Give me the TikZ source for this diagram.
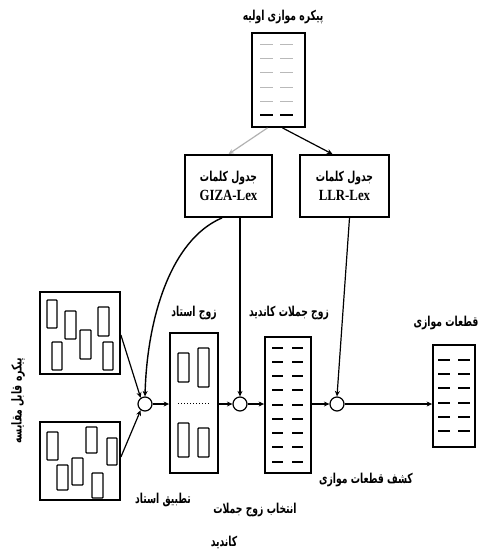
\documentclass[tikz,border=0pt]{standalone}
\usepackage{fontspec}
\usepackage{graphicx}
\usetikzlibrary{arrows.meta}
\TeXXeTstate=1
\newfontfamily\fa[Script=Arabic]{DejaVu Sans}
\newfontfamily\lat{Liberation Serif}
\newcommand{\FA}[1]{\scalebox{0.88}[1.3]{\fa\bfseries\beginR #1\endR}}
\newcommand{\LAT}[1]{\scalebox{0.95}[1.15]{\fontsize{13.5}{15}\selectfont\lat\bfseries #1}}
\begin{document}
\begin{tikzpicture}[x=1pt,y=1pt,
  box/.style={draw,line width=1.8pt,inner sep=0pt,fill=white},
  junc/.style={draw,circle,line width=1.2pt,minimum size=14pt,inner sep=0pt,fill=white},
  arr/.style={line width=1.2pt,-{Stealth[length=5.5pt,width=5pt]}},
  lbl/.style={inner sep=1pt,font=\fontsize{10.5}{12}\selectfont},
  inner/.style={line width=1.2pt,rounded corners=0.8pt},
  dsh/.style={line width=1.8pt},
  gdsh/.style={line width=1pt,gray!55}]
\useasboundingbox (0,0) rectangle (486,-552);

% ---- boxes
\node[box,minimum width=53pt,minimum height=94pt] (src) at (278.5,-80) {};
\node[box,minimum width=87pt,minimum height=62pt,align=center] (giza) at (228.5,-186)
  {{\fontsize{10.5}{12}\selectfont\FA{جدول کلمات}}\\[4pt]\LAT{GIZA-Lex}};
\node[box,minimum width=89pt,minimum height=62pt,align=center] (llr) at (344.5,-186)
  {{\fontsize{10.5}{12}\selectfont\FA{جدول کلمات}}\\[4pt]\LAT{LLR-Lex}};
\node[box,minimum width=80pt,minimum height=82pt] (cmpA) at (80,-333) {};
\node[box,minimum width=80pt,minimum height=78pt] (cmpB) at (80,-461) {};
\node[box,minimum width=48pt,minimum height=140pt] (gold) at (194,-403) {};
\node[box,minimum width=46pt,minimum height=136pt] (cand) at (288,-405) {};
\node[box,minimum width=42pt,minimum height=102pt] (fin) at (454,-396) {};

\node[junc] (c1) at (145,-404) {};
\node[junc] (c2) at (240,-404) {};
\node[junc] (c3) at (337,-404) {};

% ---- labels
\node[lbl] (tsrc) at (283,-17) {\FA{پیکره موازی اولیه}};
\node[lbl] (tgold) at (194,-313) {\FA{زوج استاد}};
\node[lbl] (tcand) at (289,-313) {\FA{زوج جملات کاندید}};
\node[lbl] (tfin) at (446,-323) {\FA{قطعات موازی}};
\node[lbl] (tdet) at (366,-480) {\FA{کشف قطعات موازی}};
\node[lbl] (tsel1) at (255,-510) {\FA{انتخاب زوج جملات}};
\node[lbl] (tsel2) at (224,-542) {\FA{کاندید}};
\node[lbl] (tmatch) at (163,-500) {\FA{تطبیق استاد}};
\node[lbl,rotate=90] (tcmp) at (18,-401) {\FA{پیکره قابل مقایسه}};

% ---- inside source box
\foreach \y in {44,58,72,87,101} {
  \draw[gdsh] (260,-\y) -- (273,-\y);
  \draw[gdsh] (280,-\y) -- (293,-\y);
}
\draw[dsh] (260,-115) -- (273,-115);
\draw[dsh] (280,-115) -- (293,-115);

% ---- inside comparable boxes
\foreach \a/\b/\c/\d in {47/300/57/328, 65/311/76/339, 80/330/91/359, 98/307/109/336, 52/342/62/370, 103/342/113/370,
                         47/432/58/460, 57/465/68/490, 72/458/83/485, 86/427/97/453, 92/473/103/498, 107/438/117/465}
  \draw[inner] (\a,-\b) rectangle (\c,-\d);

% ---- inside gold box
\draw[inner] (178,-353) rectangle (189,-382);
\draw[inner] (198,-348) rectangle (209,-387);
\draw[inner] (178,-423) rectangle (189,-457);
\draw[inner] (198,-428) rectangle (209,-457);
\draw[line width=1pt,dotted] (178,-403) -- (209,-403);

% ---- inside candidate box
\foreach \y in {348,362,376,390,405,419,433,447,462} {
  \draw[dsh] (272,-\y) -- (283,-\y);
  \draw[dsh] (292,-\y) -- (303,-\y);
}
% ---- inside final box
\foreach \y in {360,374,388,403,417,431} {
  \draw[dsh] (438,-\y) -- (450,-\y);
  \draw[dsh] (458,-\y) -- (470,-\y);
}

% ---- connectors
\draw[arr,gray!60] ([xshift=-11pt]src.south) -- (giza.north);
\draw[arr] ([xshift=4pt]src.south) -- ([xshift=-12pt]llr.north);
\draw[arr,line width=1.4pt] ([xshift=-6.5pt]giza.south) .. controls (170,-240) and (147,-320) .. (c1.north);
\draw[arr] (c2.north |- giza.south) -- (c2.north);
\draw[arr] ([xshift=5pt]llr.south) -- (c3.north);
\draw[arr] ([yshift=-2pt]cmpA.east) -- (c1.125);
\draw[arr] ([yshift=4pt]cmpB.east) -- (c1.235);
\draw[arr] (c1.east) -- (gold.west |- c1);
\draw[arr] (gold.east |- c2) -- (c2.west);
\draw[arr] (c2.east) -- (cand.west |- c2);
\draw[arr] (cand.east |- c3) -- (c3.west);
\draw[arr] (c3.east) -- (fin.west |- c3);
\end{tikzpicture}
\end{document}
